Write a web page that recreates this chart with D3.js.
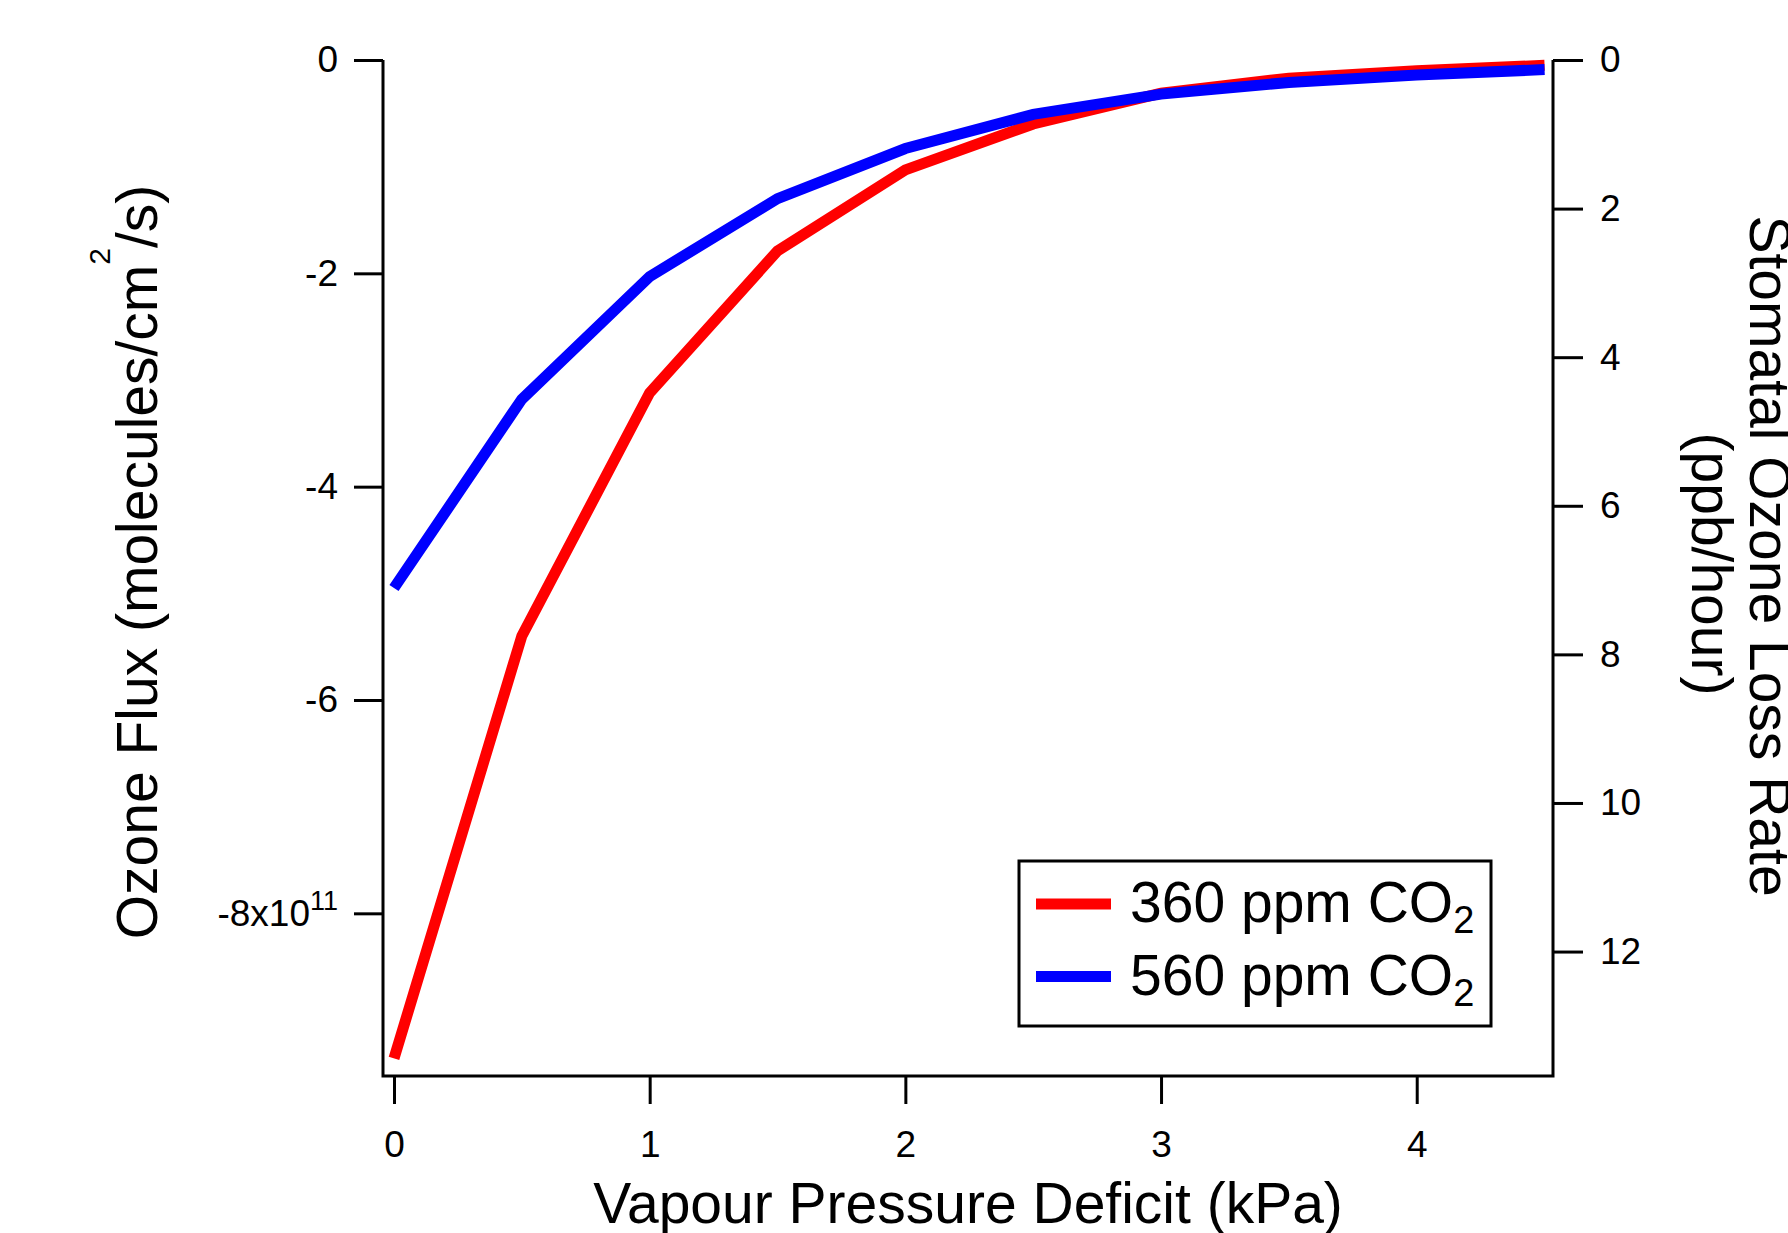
<html>
  <head>
    <meta charset="utf-8">
    <script src="https://cdnjs.cloudflare.com/ajax/libs/d3/7.8.5/d3.min.js"></script>
  </head>
  <body style="margin:0;background:#fff;">
    <style>
      text {font-family:"Liberation Sans", Arial, sans-serif; fill:#000;}
      .tick text {font-size:37px;}
    </style>
    <div id="chart"></div>
    <script>


// D A T A

      // vapour pressure deficit (kPa)
      let vpd = [0, 0.5, 1, 1.5, 2, 2.5, 3, 3.5, 4, 4.5]

      // ozone flux, units of 1e11 molecules/cm2/s
      let flux360 = [-9.36, -5.40, -3.12, -1.79, -1.03, -0.60, -0.31, -0.17, -0.10, -0.05]
      let flux560 = [-4.95, -3.18, -2.03, -1.30, -0.83, -0.51, -0.32, -0.21, -0.14, -0.09]

      let seriesNames = ['360 ppm CO', '560 ppm CO']
      let seriesColors = ['#ff0000', '#0000ff']

      let xTicks = [0, 1, 2, 3, 4]
      let leftTicks = [0, -2, -4, -6, -8]
      let rightTicks = [0, 2, 4, 6, 8, 10, 12]


// S C A L E S

      let W = 1788, H = 1233

      let svg = d3.select('#chart')
        .append('svg')
          .attr('width', W)
          .attr('height', H)

      svg.append('rect').attr('width', W).attr('height', H).attr('fill', '#fff')

      let x = d3.scaleLinear()
        .domain([-0.043, 4.533])
        .range([383, 1553])

      let yL = d3.scaleLinear()
        .domain([-9.525, 0])
        .range([1076, 60])

      let yR = d3.scaleLinear()
        .domain([0, 13.675])
        .range([60, 1076])


// A X E S

      function thick(g) {
        g.select('.domain').attr('stroke-width', 3)
        g.selectAll('.tick line').attr('stroke-width', 3)
      }

      // plain hyphen for negatives, like the original
      let plain = d => String(d)

      let left = svg.append('g')
        .attr('transform', `translate(${x.range()[0]},0)`)
        .call(d3.axisLeft(yL)
          .tickValues(leftTicks)
          .tickSize(29)
          .tickSizeOuter(0)
          .tickPadding(16)
          .tickFormat(d => d == -8 ? '-8x10' : plain(d)))
        .call(thick)
      left.selectAll('.domain').remove()
      left.selectAll('.tick text')
        .filter(d => d == -8)
        .append('tspan')
          .attr('dy', -16)
          .style('font-size', '27px')
          .text('11')

      let right = svg.append('g')
        .attr('transform', `translate(${x.range()[1]},0)`)
        .call(d3.axisRight(yR)
          .tickValues(rightTicks)
          .tickSize(30)
          .tickSizeOuter(0)
          .tickPadding(17)
          .tickFormat(plain))
        .call(thick)
      right.selectAll('.domain').remove()

      let bottom = svg.append('g')
        .attr('transform', `translate(0,${yL.range()[0]})`)
        .call(d3.axisBottom(x)
          .tickValues(xTicks)
          .tickSize(28)
          .tickSizeOuter(0)
          .tickPadding(27)
          .tickFormat(plain))
        .call(thick)
      bottom.selectAll('.domain').remove()

      // frame: left, bottom, right
      let frame = d3.path()
      frame.moveTo(x.range()[0], yL.range()[1])
      frame.lineTo(x.range()[0], yL.range()[0])
      frame.lineTo(x.range()[1], yL.range()[0])
      frame.lineTo(x.range()[1], yL.range()[1])
      svg.append('path')
        .attr('d', frame.toString())
        .attr('fill', 'none')
        .attr('stroke', '#000')
        .attr('stroke-width', 3)
        .attr('stroke-linejoin', 'miter')


// L A B E L S

      svg.append('text')
        .attr('x', 968)
        .attr('y', 1223)
        .attr('text-anchor', 'middle')
        .style('font-size', '57px')
        .text('Vapour Pressure Deficit (kPa)')

      let ylab = svg.append('text')
        .attr('transform', 'translate(157,562) rotate(-90)')
        .attr('text-anchor', 'middle')
        .style('font-size', '57px')
      ylab.append('tspan').text('Ozone Flux (molecules/cm')
      ylab.append('tspan').attr('dy', -47).style('font-size', '30px').text('2')
      ylab.append('tspan').attr('dy', 47).text('/s)')

      svg.append('text')
        .attr('transform', 'translate(1750,556) rotate(90)')
        .attr('text-anchor', 'middle')
        .style('font-size', '57px')
        .text('Stomatal Ozone Loss Rate')

      svg.append('text')
        .attr('transform', 'translate(1692,564) rotate(90)')
        .attr('text-anchor', 'middle')
        .style('font-size', '57px')
        .text('(ppb/hour)')


// R E N D E R

      let line = d3.line()
        .x(d => x(d[0]))
        .y(d => yL(d[1]))

      let series = [flux360, flux560].map(s => vpd.map((v, i) => [v, s[i]]))

      svg.append('g')
        .selectAll('path')
        .data(series)
        .enter()
          .append('path')
          .attr('d', line)
          .attr('fill', 'none')
          .attr('stroke', (d, i) => seriesColors[i])
          .attr('stroke-width', 11)
          .attr('stroke-linejoin', 'miter')


// L E G E N D

      let legend = svg.append('g')

      legend.append('rect')
        .attr('x', 1019)
        .attr('y', 861)
        .attr('width', 472)
        .attr('height', 165)
        .attr('fill', '#fff')
        .attr('stroke', '#000')
        .attr('stroke-width', 3)

      let item = legend.selectAll('.item')
        .data(seriesNames)
        .enter()
          .append('g')
          .attr('class', 'item')
          .attr('transform', (d, i) => `translate(0,${904 + i * 72.5})`)

      item.append('line')
        .attr('x1', 1036)
        .attr('x2', 1111)
        .attr('stroke', (d, i) => seriesColors[i])
        .attr('stroke-width', 11)

      let lt = item.append('text')
        .attr('x', 1130)
        .attr('y', 18)
        .style('font-size', '57px')
      lt.append('tspan').text(d => d)
      lt.append('tspan').attr('dy', 11).style('font-size', '38px').text('2')


    </script>
  </body>
</html>
